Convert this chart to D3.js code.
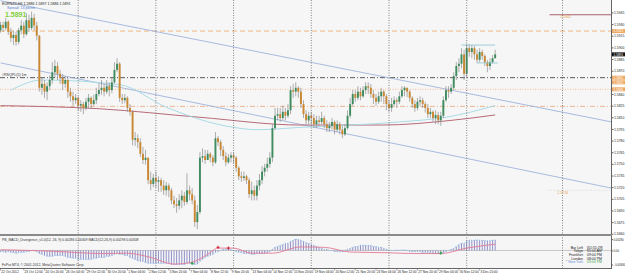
<!DOCTYPE html>
<html>
<head>
<meta charset="utf-8">
<script src="https://cdn.jsdelivr.net/npm/d3@7"></script>
<style>
  body { margin: 0; background: #fff; }
  svg { display: block; }
  text { font-family: "Liberation Sans", Arial, sans-serif; }
</style>
</head>
<body>
<div id="chart"></div>
<script>
var width = 625, height = 274;
var plotRight = 611;
var mainBottom = 234, macdTop = 236, macdBottom = 268;

// EURNZD H4 candles, open of each bar = previous close
var firstOpen = 1.5922;
var closes = [1.5929,1.5925,1.5933,1.5920,1.5912,1.5916,1.5907,1.5922,1.5928,1.5917,1.5935,1.5925,1.5938,1.5928,1.5915,
  1.5848,1.5853,1.5843,1.5850,1.5858,1.5868,1.5876,1.5866,1.5861,1.5853,1.5858,1.5843,1.5837,1.5832,1.5835,
  1.5825,1.5827,1.5822,1.5830,1.5835,1.5827,1.5832,1.5840,1.5845,1.5848,1.5843,1.5850,1.5845,1.5855,1.5871,
  1.5879,1.5835,1.5832,1.5835,1.5822,1.5817,1.5781,1.5783,1.5778,1.5763,1.5755,1.5758,1.5729,1.5724,1.5732,
  1.5727,1.5729,1.5722,1.5716,1.5722,1.5716,1.5703,1.5698,1.5696,1.5703,1.5709,1.5701,1.5716,1.5711,1.5703,
  1.5675,1.5688,1.5758,1.5760,1.5755,1.5763,1.5758,1.5752,1.5783,1.5778,1.5768,1.5760,1.5752,1.5758,1.5761,
  1.5758,1.5745,1.5734,1.5732,1.5734,1.5729,1.5711,1.5716,1.5709,1.5722,1.5729,1.5740,1.5745,1.5750,1.5758,
  1.5796,1.5812,1.5814,1.5809,1.5817,1.5812,1.5819,1.5845,1.5843,1.5848,1.5843,1.5827,1.5814,1.5806,1.5812,
  1.5809,1.5801,1.5806,1.5804,1.5809,1.5801,1.5796,1.5799,1.5804,1.5794,1.5801,1.5794,1.5788,1.5796,1.5812,
  1.5827,1.5840,1.5835,1.5843,1.5837,1.5845,1.5850,1.5848,1.5840,1.5835,1.5830,1.5837,1.5843,1.5837,1.5827,
  1.5822,1.5827,1.5832,1.5830,1.5837,1.5845,1.5848,1.5843,1.5835,1.5827,1.5822,1.5830,1.5832,1.5827,1.5822,
  1.5814,1.5817,1.5809,1.5813,1.5806,1.5812,1.5832,1.5845,1.5843,1.5848,1.5863,1.5876,1.5879,1.5891,1.5866,
  1.5899,1.5894,1.5899,1.5891,1.5884,1.5894,1.5889,1.5881,1.5876,1.5881,1.5886,1.5891];
var highs = [1.5933,1.5933,1.5938,1.5935,1.5925,1.5922,1.5920,1.5925,1.5935,1.5933,1.5944,1.5942,1.5946,1.5943,1.5933,
  1.5916,1.5861,1.5858,1.5855,1.5864,1.5881,1.5884,1.5881,1.5871,1.5866,1.5863,1.5861,1.5848,1.5843,1.5840,
  1.5837,1.5832,1.5830,1.5835,1.5840,1.5837,1.5839,1.5848,1.5853,1.5858,1.5853,1.5858,1.5855,1.5861,1.5881,
  1.5886,1.5881,1.5840,1.5840,1.5837,1.5827,1.5819,1.5791,1.5788,1.5783,1.5772,1.5768,1.5758,1.5740,1.5737,
  1.5740,1.5734,1.5732,1.5729,1.5727,1.5725,1.5719,1.5709,1.5706,1.5711,1.5716,1.5714,1.5738,1.5722,1.5719,
  1.5709,1.5697,1.5765,1.5770,1.5768,1.5768,1.5765,1.5761,1.5791,1.5786,1.5781,1.5773,1.5765,1.5763,1.5765,
  1.5765,1.5760,1.5747,1.5740,1.5740,1.5736,1.5732,1.5727,1.5722,1.5729,1.5737,1.5747,1.5750,1.5758,1.5765,
  1.5801,1.5822,1.5822,1.5822,1.5825,1.5822,1.5827,1.5850,1.5853,1.5855,1.5850,1.5848,1.5832,1.5819,1.5817,
  1.5817,1.5814,1.5812,1.5812,1.5817,1.5812,1.5806,1.5804,1.5809,1.5806,1.5806,1.5804,1.5799,1.5801,1.5819,
  1.5835,1.5845,1.5845,1.5850,1.5848,1.5850,1.5855,1.5855,1.5853,1.5845,1.5840,1.5843,1.5848,1.5845,1.5840,
  1.5832,1.5835,1.5837,1.5835,1.5843,1.5850,1.5850,1.5848,1.5845,1.5837,1.5832,1.5835,1.5837,1.5835,1.5830,
  1.5827,1.5822,1.5819,1.5819,1.5817,1.5817,1.5837,1.5850,1.5850,1.5853,1.5868,1.5881,1.5886,1.5899,1.5897,
  1.5904,1.5904,1.5903,1.5902,1.5897,1.5899,1.5897,1.5891,1.5884,1.5886,1.5890,1.5897];
var lows = [1.5919,1.5920,1.5922,1.5916,1.5907,1.5903,1.5902,1.5904,1.5917,1.5912,1.5915,1.5920,1.5922,1.5922,1.5909,
  1.5843,1.5839,1.5835,1.5832,1.5845,1.5853,1.5861,1.5858,1.5853,1.5845,1.5848,1.5835,1.5830,1.5825,1.5827,
  1.5819,1.5817,1.5814,1.5819,1.5822,1.5822,1.5825,1.5827,1.5837,1.5839,1.5837,1.5840,1.5837,1.5841,1.5853,
  1.5868,1.5830,1.5827,1.5828,1.5817,1.5812,1.5774,1.5773,1.5770,1.5759,1.5750,1.5749,1.5724,1.5716,1.5720,
  1.5719,1.5714,1.5714,1.5710,1.5709,1.5707,1.5698,1.5693,1.5687,1.5691,1.5693,1.5696,1.5698,1.5703,1.5698,
  1.5669,1.5666,1.5685,1.5752,1.5750,1.5755,1.5752,1.5747,1.5750,1.5773,1.5760,1.5755,1.5747,1.5750,1.5752,
  1.5750,1.5740,1.5729,1.5727,1.5728,1.5724,1.5706,1.5703,1.5703,1.5703,1.5716,1.5724,1.5734,1.5740,1.5745,
  1.5752,1.5794,1.5806,1.5804,1.5806,1.5806,1.5809,1.5814,1.5835,1.5837,1.5835,1.5822,1.5809,1.5801,1.5801,
  1.5801,1.5796,1.5796,1.5799,1.5801,1.5796,1.5791,1.5791,1.5794,1.5788,1.5791,1.5788,1.5783,1.5786,1.5794,
  1.5809,1.5825,1.5830,1.5832,1.5832,1.5835,1.5840,1.5840,1.5835,1.5827,1.5825,1.5827,1.5830,1.5827,1.5819,
  1.5817,1.5817,1.5825,1.5822,1.5827,1.5835,1.5837,1.5836,1.5830,1.5822,1.5817,1.5819,1.5825,1.5822,1.5816,
  1.5809,1.5809,1.5804,1.5801,1.5801,1.5799,1.5809,1.5830,1.5835,1.5840,1.5845,1.5858,1.5868,1.5873,1.5858,
  1.5861,1.5888,1.5886,1.5884,1.5880,1.5881,1.5884,1.5876,1.5868,1.5871,1.5879,1.5886];

// moving averages, read as knots [bar, price]
var maFast = [[4,1.5845],[16,1.5858],[46,1.5852],[64,1.5823],[90,1.5797],[99,1.5794],[116,1.5797],[154,1.5804],[172,1.5810],[191,1.5825]];
var maSlow = [[0,1.5825],[38,1.5821],[77,1.5810],[116,1.5800],[147,1.5800],[174,1.5806],[191,1.5813]];

// trend lines (rays) [bar0, price0, bar1, price1]
var trendUpper = [0, 1.5960, 180, 1.5841];
var trendLower = [0, 1.5880, 180, 1.5757];

// horizontal levels
var levelPrices = [1.5921, 1.5861, 1.5846, 1.5824];
var levelNames = ["", "#RSQPL(5) 1m", "", ""];
var shortLevels = [[212, 1.5942], [211, 1.5716]];
var boxSegments = [[178, 191, 1.5903], [184, 192, 1.5880]];
var markerPrices = [1.5921, 1.5861, 1.5855, 1.5846];
var vLineBar = 217;

// weekly separators
var separatorBars = [30, 60, 90, 120, 150, 180];

var priceTicks = [1.5945,1.5930,1.5915,1.5900,1.5885,1.5870,1.5855,1.5840,1.5825,1.5810,1.5795,1.5780,
  1.5765,1.5750,1.5735,1.5720,1.5705,1.5690,1.5675,1.5660];

var timeBars = [0,9,17,25,33,41,49,57,65,73,81,89,97,105,113,121,129,137,145,153,161,169,177,185];
var timeLabels = ["22 Oct 2012","23 Oct 12:00","24 Oct 20:00","26 Oct 04:00","29 Oct 12:00","30 Oct 20:00",
  "1 Nov 04:00","2 Nov 12:00","5 Nov 20:00","7 Nov 04:00","8 Nov 12:00","9 Nov 20:00","13 Nov 04:00",
  "14 Nov 12:00","15 Nov 20:00","19 Nov 04:00","20 Nov 12:00","21 Nov 20:00","23 Nov 04:00","26 Nov 12:00",
  "27 Nov 20:00","29 Nov 04:00","30 Nov 12:00","3 Dec 20:00"];

// MACD pane
var macdHist = [-0.0003,-0.0003,-0.0005,-0.0003,-0.0005,-0.0005,-0.0008,-0.0005,
  -0.0005,-0.0005,-0.0003,-0.0003,0,0.0001,-0.0003,
  -0.0008,-0.001,-0.0013,-0.0015,-0.0015,-0.0015,-0.0013,-0.0013,
  -0.0013,-0.0013,-0.0015,-0.0018,-0.0018,-0.002,-0.002,-0.0023,
  -0.0023,-0.0023,-0.0023,-0.0023,-0.0023,-0.002,-0.002,-0.0018,
  -0.0018,-0.0018,-0.0015,-0.0015,-0.0013,-0.001,-0.0008,-0.001,
  -0.001,-0.0013,-0.0013,-0.0018,-0.002,-0.0023,-0.0026,-0.0028,
  -0.0028,-0.0031,-0.0033,-0.0033,-0.0033,-0.0033,-0.0033,-0.0033,
  -0.0033,-0.0033,-0.0033,-0.0036,-0.0036,-0.0036,-0.0036,-0.0036,
  -0.0036,-0.0033,-0.0033,-0.0035,-0.0036,-0.0035,-0.0028,-0.0023,
  -0.0018,-0.0015,-0.0013,-0.001,-0.0005,-0.0003,0,0.0003,
  0.0003,0.0003,0.0002,0,-0.0003,-0.0005,-0.0005,-0.0008,
  -0.0008,-0.0008,-0.001,-0.001,-0.0008,-0.0008,-0.0008,-0.0007,
  -0.0005,-0.0003,0.0003,0.0008,0.001,0.0013,0.0015,0.0018,
  0.0018,0.0023,0.0026,0.0029,0.0028,0.0026,0.0023,0.002,
  0.0018,0.0015,0.0013,0.001,0.0008,0.0005,0.0003,0.0003,
  0,0,-0.0003,-0.0003,-0.0003,-0.0003,0,0.0003,
  0.0005,0.0008,0.001,0.001,0.0013,0.0013,0.0013,0.0013,
  0.0013,0.001,0.001,0.0008,0.0008,0.0005,0.0003,0,
  0,0,0.0001,0,0.0001,0.0001,0,-0.0003,
  -0.0003,-0.0003,-0.0003,-0.0003,-0.0005,-0.0005,-0.0005,-0.0005,
  -0.0008,-0.0008,-0.0008,-0.0008,-0.0005,-0.0003,0,0.0003,
  0.0005,0.001,0.0015,0.0018,0.0018,0.0023,0.0026,0.0026,
  0.0026,0.0027,0.0026,0.0026,0.0025,0.0025,0.0025,0.0026,0.0027];
var macdSignal = [[0,0.0002],[20,-0.0002],[40,-0.0008],[49,-0.0007],[58,-0.0018],[67,-0.0035],[74,-0.0030],
  [80,-0.0010],[84,0.0006],[90,0.0006],[97,-0.0007],[105,-0.0007],[116,0.0009],[125,0.0008],[135,-0.0004],
  [150,-0.0006],[160,-0.0008],[170,-0.0008],[180,0.0006],[191,0.0016]];
var macdTicks = [0.0029, 0, -0.0036];
var sellMarks = [[84, 0.0008], [88, 0.0006]];
var buyMarks = [[74, -0.0033], [170, -0.0007]];

var infoNames = ["Bar Left", "Tokyo", "Frankfurt", "London", "* New York"];
var infoTimes = ["[01:55:29]", "05:04 AM", "09:04 PM", "08:04 PM", "03:04 PM"];

var opens = closes.map(function(c, i) { return i == 0 ? firstOpen : closes[i - 1]; });
var last = closes[closes.length - 1];

var x = d3.scaleLinear().domain([0, 236]).range([0.5, 611.7]);
var y = d3.scaleLinear().domain([1.5661, 1.5961]).range([233, 0]);
var ym = d3.scaleLinear().domain([-0.0045, 0.0037]).range([macdBottom, macdTop]);

var svg = d3.select("#chart").append("svg")
    .attr("width", width)
    .attr("height", height);

svg.append("rect").attr("width", width).attr("height", height).attr("fill", "#fff");
svg.append("rect").attr("x", 0).attr("y", 0).attr("width", plotRight).attr("height", mainBottom).attr("fill", "#f6f6f6");
svg.append("rect").attr("x", 0).attr("y", macdTop).attr("width", plotRight).attr("height", macdBottom - macdTop).attr("fill", "#f6f6f6");

var defs = svg.append("defs");
defs.append("clipPath").attr("id", "clipMain").append("rect")
    .attr("x", 0).attr("y", 0).attr("width", plotRight).attr("height", mainBottom);
defs.append("clipPath").attr("id", "clipMacd").append("rect")
    .attr("x", 0).attr("y", macdTop).attr("width", plotRight).attr("height", macdBottom - macdTop);

var main = svg.append("g").attr("clip-path", "url(#clipMain)");
var macd = svg.append("g").attr("clip-path", "url(#clipMacd)");

// separators
separatorBars.concat([vLineBar]).forEach(function(b) {
    svg.append("line")
        .attr("x1", x(b)).attr("x2", x(b))
        .attr("y1", 0).attr("y2", macdBottom)
        .attr("stroke", "#666").attr("stroke-width", 0.8)
        .attr("stroke-dasharray", "1,1.5");
});

// levels
var levelStyles = [
    { color: "#eeb070", dash: "5,3", w: 0.9 },
    { color: "#333", dash: "5,2,1,2", w: 0.8 },
    { color: "#f0b890", dash: "1,1.5", w: 0.9 },
    { color: "#eab088", dash: "5,2,1,2", w: 0.9 }
];
levelPrices.forEach(function(p, i) {
    main.append("line")
        .attr("x1", 0).attr("x2", plotRight)
        .attr("y1", y(p)).attr("y2", y(p))
        .attr("stroke", levelStyles[i].color)
        .attr("stroke-width", levelStyles[i].w)
        .attr("stroke-dasharray", levelStyles[i].dash);
    if (levelNames[i]) {
        main.append("text").attr("x", 2).attr("y", y(p) - 1.5)
            .attr("font-size", 3.6).attr("fill", "#333").text(levelNames[i]);
    }
});

main.append("line")
    .attr("x1", x(shortLevels[0][0])).attr("x2", plotRight)
    .attr("y1", y(shortLevels[0][1])).attr("y2", y(shortLevels[0][1]))
    .attr("stroke", "#a05060").attr("stroke-width", 0.9);
main.append("line")
    .attr("x1", x(shortLevels[1][0])).attr("x2", plotRight)
    .attr("y1", y(shortLevels[1][1])).attr("y2", y(shortLevels[1][1]))
    .attr("stroke", "#ddd").attr("stroke-width", 0.9).attr("stroke-dasharray", "1,1");
shortLevels.forEach(function(s) {
    main.append("text").attr("x", x(s[0] + 4)).attr("y", y(s[1]) + 3.5)
        .attr("font-size", 3.6).attr("fill", "#e8a040").text(s[1].toFixed(4));
});

// trend rays
[trendUpper, trendLower].forEach(function(t) {
    var slope = (t[3] - t[1]) / (t[2] - t[0]);
    main.append("line")
        .attr("x1", x(t[0])).attr("y1", y(t[1]))
        .attr("x2", x(236)).attr("y2", y(t[1] + slope * (236 - t[0])))
        .attr("stroke", "#9fb3dc").attr("stroke-width", 0.9);
});

// moving averages
var maLine = d3.line()
    .x(function(d) { return x(d[0]); })
    .y(function(d) { return y(d[1]); })
    .curve(d3.curveMonotoneX);
main.append("path").attr("d", maLine(maSlow))
    .attr("fill", "none").attr("stroke", "#b76a7a").attr("stroke-width", 1);
main.append("path").attr("d", maLine(maFast))
    .attr("fill", "none").attr("stroke", "#a9dce6").attr("stroke-width", 1);

// candles
var bars = main.selectAll(".bar")
    .data(closes)
    .enter().append("g")
    .attr("class", "bar");
bars.append("line")
    .attr("x1", function(d, i) { return x(i); })
    .attr("x2", function(d, i) { return x(i); })
    .attr("y1", function(d, i) { return y(highs[i]); })
    .attr("y2", function(d, i) { return y(lows[i]); })
    .attr("stroke", "#8d8d8d").attr("stroke-width", 0.7);
bars.append("rect")
    .attr("x", function(d, i) { return x(i) - 0.95; })
    .attr("width", 1.9)
    .attr("y", function(d, i) { return y(Math.max(opens[i], d)); })
    .attr("height", function(d, i) { return Math.max(0.7, Math.abs(y(opens[i]) - y(d))); })
    .attr("fill", function(d, i) { return d >= opens[i] ? "#3e8c5f" : "#c98732"; });

boxSegments.forEach(function(s) {
    main.append("line")
        .attr("x1", x(s[0])).attr("x2", x(s[1]))
        .attr("y1", y(s[2])).attr("y2", y(s[2]))
        .attr("stroke", "#8fc6d4").attr("stroke-width", 0.9);
});

// header texts
svg.append("text").attr("x", 2).attr("y", 4.5).attr("font-size", 3.6).attr("fill", "#222")
    .text("EURNZD,H4  " + opens[opens.length - 1].toFixed(4) + " " + highs[highs.length - 1].toFixed(4) + " " +
          lows[lows.length - 1].toFixed(4) + " " + last.toFixed(4));
svg.append("text").attr("x", 7).attr("y", 9).attr("font-size", 3.6).attr("fill", "#5577cc")
    .text("Spread: 13 points");
svg.append("text").attr("x", 5).attr("y", 16.5).attr("font-size", 7).attr("font-weight", "bold")
    .attr("fill", "#7fcf3a").text(last.toFixed(4));

// price axis
svg.append("line").attr("x1", plotRight + 0.5).attr("x2", plotRight + 0.5)
    .attr("y1", 0).attr("y2", macdBottom).attr("stroke", "#666").attr("stroke-width", 1);
var boxed = markerPrices.concat([last]);
var shownTicks = priceTicks.filter(function(t) {
    return boxed.every(function(p) { return Math.abs(y(t) - y(p)) > 4.5; });
});
var yAxis = d3.axisRight(y).tickValues(shownTicks).tickSize(2).tickFormat(d3.format(".4f"));
var ya = svg.append("g").attr("transform", "translate(" + (plotRight + 0.5) + ",0)").call(yAxis);
ya.select(".domain").remove();
ya.selectAll("text").attr("font-size", 3.4).attr("fill", "#222").attr("x", 2.5);
ya.selectAll("line").attr("stroke", "#666");

function priceBox(p, color) {
    svg.append("rect").attr("x", plotRight + 1).attr("y", y(p) - 2).attr("width", 13).attr("height", 4)
        .attr("fill", color);
    svg.append("text").attr("x", plotRight + 2.5).attr("y", y(p) + 1.3).attr("font-size", 3.2)
        .attr("fill", "#fff").text(p.toFixed(4));
}
markerPrices.forEach(function(p) { priceBox(p, "#eda963"); });
priceBox(last, "#111");

// pane separator
svg.append("rect").attr("x", 0).attr("y", mainBottom).attr("width", plotRight + 1).attr("height", 2)
    .attr("fill", "#8a8a8a");

// MACD
macd.append("line").attr("x1", 0).attr("x2", plotRight).attr("y1", ym(0)).attr("y2", ym(0))
    .attr("stroke", "#999").attr("stroke-width", 0.5);
macd.selectAll(".hist")
    .data(macdHist)
    .enter().append("line")
    .attr("class", "hist")
    .attr("x1", function(d, i) { return x(i); })
    .attr("x2", function(d, i) { return x(i); })
    .attr("y1", ym(0))
    .attr("y2", function(d) { return ym(d); })
    .attr("stroke", "#7777bb").attr("stroke-width", 0.8);
var histLine = d3.line()
    .x(function(d, i) { return x(i); })
    .y(function(d) { return ym(d); });
macd.append("path").attr("d", histLine(macdHist))
    .attr("fill", "none").attr("stroke", "#6fb0e8").attr("stroke-width", 0.7).attr("stroke-dasharray", "1,1");
var sigLine = d3.line()
    .x(function(d) { return x(d[0]); })
    .y(function(d) { return ym(d[1]); })
    .curve(d3.curveMonotoneX);
macd.append("path").attr("d", sigLine(macdSignal))
    .attr("fill", "none").attr("stroke", "#e27a95").attr("stroke-width", 0.9);

function cross(g, px, py, color) {
    g.append("path").attr("d", "M" + (px - 1.5) + "," + py + "h3M" + px + "," + (py - 1.5) + "v3")
        .attr("stroke", color).attr("stroke-width", 1);
}
sellMarks.forEach(function(m) { cross(macd, x(m[0]), ym(m[1]), "#d02030"); });
buyMarks.forEach(function(m) { cross(macd, x(m[0]), ym(m[1]), "#20a040"); });

svg.append("text").attr("x", 2).attr("y", 240.5).attr("font-size", 3.4).attr("fill", "#333")
    .text("PB_MACD_Divergence_v1.0(12, 26, 9) 0.00286 0.00309  MACD(12,26,9) 0.00298 0.00308");
svg.append("text").attr("x", 2).attr("y", 266).attr("font-size", 3.4).attr("fill", "#333")
    .text("FxPro MT4, \u00a9 2001-2012, MetaQuotes Software Corp.");

var ymAxis = d3.axisRight(ym).tickValues(macdTicks).tickSize(1.5).tickFormat(function(d) {
    return d == 0 ? "0.00" : d3.format(".5f")(d);
});
var yma = svg.append("g").attr("transform", "translate(" + (plotRight + 0.5) + ",0)").call(ymAxis);
yma.select(".domain").remove();
yma.selectAll("text").attr("font-size", 2.8).attr("fill", "#222").attr("x", 2);
yma.selectAll("line").attr("stroke", "#666");

// info block
infoNames.forEach(function(n, i) {
    svg.append("text").attr("x", 583).attr("y", 248.5 + i * 3.7).attr("font-size", 3.5)
        .attr("text-anchor", "end").attr("fill", i == 4 ? "#6a8fd8" : "#222").text(n);
    svg.append("text").attr("x", 587).attr("y", 248.5 + i * 3.7).attr("font-size", 3.5)
        .attr("fill", i == 4 ? "#44aa55" : "#222").text(infoTimes[i]);
});

// time axis
svg.append("line").attr("x1", 0).attr("x2", plotRight + 1).attr("y1", macdBottom + 0.5).attr("y2", macdBottom + 0.5)
    .attr("stroke", "#666");
timeBars.forEach(function(b, i) {
    svg.append("line").attr("x1", x(b)).attr("x2", x(b)).attr("y1", macdBottom).attr("y2", macdBottom + 2.5)
        .attr("stroke", "#666").attr("stroke-width", 0.6);
    svg.append("text").attr("x", x(b) + 0.8).attr("y", 272.5).attr("font-size", 3.2).attr("fill", "#222")
        .text(timeLabels[i]);
});
</script>
</body>
</html>
